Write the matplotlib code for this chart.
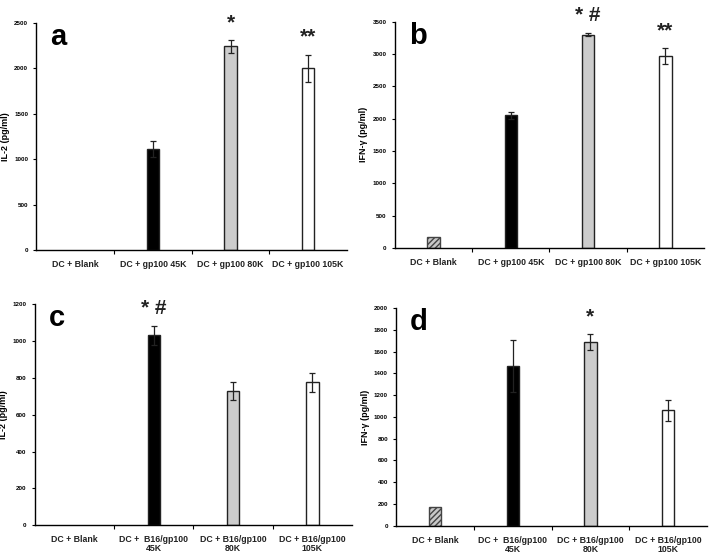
import matplotlib.pyplot as plt

plt.rcParams['font.family'] = ['Liberation Sans', 'DejaVu Sans']

# Data
labels_top = ["DC + Blank", "DC + gp100 45K", "DC + gp100 80K", "DC + gp100 105K"]
labels_bottom = ["DC + Blank", "DC +  B16/gp100\n45K", "DC + B16/gp100\n80K", "DC + B16/gp100\n105K"]

il2_a = [0, 1110, 2240, 2000]
il2_a_err = [0, 90, 70, 150]
ifn_b = [170, 2050, 3300, 2970]
ifn_b_err = [0, 50, 20, 120]
il2_c = [0, 1030, 730, 775]
il2_c_err = [0, 50, 50, 50]
ifn_d = [175, 1470, 1690, 1060]
ifn_d_err = [0, 240, 75, 95]

marks_a = ["", "", "*", "**"]
marks_b = ["", "", "* #", "**"]
marks_c = ["", "* #", "", ""]
marks_d = ["", "", "*", ""]

colors = ["#c8c8c8", "black", "#cccccc", "white"]


def panel(ax, vals, errs, labels, ylabel, ymax, ystep, letter, marks):
    x = range(len(vals))
    bars = ax.bar(x, vals, width=0.16, color=colors, edgecolor="#222222", linewidth=1.0)
    bars[0].set_hatch("//////")
    bars[0].set_edgecolor("#444444")
    for b, v in zip(bars, vals):
        if v == 0:
            b.set_linewidth(0)
    for i in x:
        if errs[i] > 0:
            ax.errorbar(i, vals[i], yerr=errs[i], fmt="none", ecolor="#222222",
                        elinewidth=0.9, capsize=2, capthick=0.9)
    ax.set_xlim(-0.5, 3.5)
    ax.set_ylim(0, ymax)
    ax.set_yticks(range(0, ymax + 1, ystep))
    ax.tick_params(axis="y", labelsize=4.5, length=2, width=0.8, pad=4)
    ax.set_xticks(list(x))
    ax.set_xticklabels(labels, fontsize=6.3, fontweight="bold", color="#222222",
                       linespacing=1.0)
    ax.tick_params(axis="x", length=0, pad=7)
    ax.set_xticks([0.5, 1.5, 2.5], minor=True)
    ax.tick_params(axis="x", which="minor", length=3, width=0.8)
    for lbl in ax.get_yticklabels():
        lbl.set_fontweight("bold")
    ax.set_ylabel(ylabel, fontsize=6.5, fontweight="bold", labelpad=3)
    ax.spines["top"].set_visible(False)
    ax.spines["right"].set_visible(False)
    ax.spines["left"].set_linewidth(1.0)
    ax.spines["bottom"].set_linewidth(1.0)
    ax.text(0.045, 1.0, letter, transform=ax.transAxes, fontsize=21, fontweight="bold",
            va="top", ha="left")
    for i, m in enumerate(marks):
        if m:
            ax.text(i, vals[i] + errs[i] + ymax * 0.035, m, ha="center", va="bottom",
                    fontsize=15, fontweight="bold", color="#222222", clip_on=False)


fig = plt.figure(figsize=(7.14, 5.57), dpi=100)
ax_a = fig.add_axes([0.051, 0.551, 0.435, 0.408])
ax_b = fig.add_axes([0.553, 0.555, 0.433, 0.406])
ax_c = fig.add_axes([0.049, 0.057, 0.444, 0.397])
ax_d = fig.add_axes([0.555, 0.056, 0.435, 0.391])

panel(ax_a, il2_a, il2_a_err, labels_top, "IL-2 (pg/ml)", 2500, 500, "a", marks_a)
panel(ax_b, ifn_b, ifn_b_err, labels_top, "IFN-γ (pg/ml)", 3500, 500, "b", marks_b)
panel(ax_c, il2_c, il2_c_err, labels_bottom, "IL-2 (pg/ml)", 1200, 200, "c", marks_c)
panel(ax_d, ifn_d, ifn_d_err, labels_bottom, "IFN-γ (pg/ml)", 2000, 200, "d", marks_d)

plt.savefig("out.png", dpi=100)
